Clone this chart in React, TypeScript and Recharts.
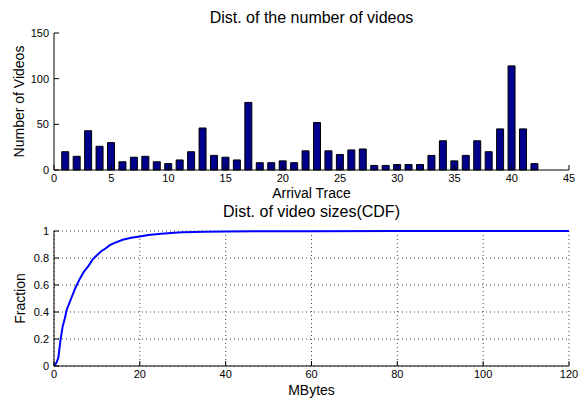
import React from "react";
import {
  BarChart,
  Bar,
  LineChart,
  Line,
  XAxis,
  YAxis,
  CartesianGrid,
} from "recharts";

// Videos per arrival trace
const traceIds = [
  1, 2, 3, 4, 5, 6, 7, 8, 9, 10, 11, 12, 13, 14, 15, 16, 17, 18, 19, 20, 21,
  22, 23, 24, 25, 26, 27, 28, 29, 30, 31, 32, 33, 34, 35, 36, 37, 38, 39, 40,
  41, 42,
];
const videoCounts = [
  20, 15, 43, 26, 30, 9, 14, 15, 9, 7, 11, 20, 46, 16, 14, 11, 74, 8, 8, 10, 8,
  21, 52, 21, 17, 22, 23, 5, 5, 6, 6, 6, 16, 32, 10, 16, 32, 20, 45, 114, 45, 7,
];
const traceTicks = [0, 5, 10, 15, 20, 25, 30, 35, 40, 45];
const countTicks = [0, 50, 100, 150];

// Video size CDF
const sizeMB = [
  0, 0.5, 1, 1.5, 2, 2.5, 3, 4, 5, 6, 7, 8, 9, 10, 11, 12, 13, 14, 16, 18, 20,
  22, 25, 28, 30, 35, 40, 50, 60, 80, 100, 120,
];
const sizeFraction = [
  0, 0.02, 0.06, 0.19, 0.29, 0.35, 0.42, 0.5, 0.58, 0.645, 0.7, 0.74, 0.79,
  0.82, 0.85, 0.87, 0.895, 0.91, 0.935, 0.95, 0.96, 0.97, 0.98, 0.987, 0.99,
  0.994, 0.996, 0.998, 0.999, 1, 1, 1,
];
const sizeTicks = [0, 20, 40, 60, 80, 100, 120];
const fractionTicks = [0, 0.2, 0.4, 0.6, 0.8, 1];

const barData = traceIds.map((id, i) => ({ trace: id, count: videoCounts[i] }));
const cdfData = sizeMB.map((mb, i) => ({ mb, fraction: sizeFraction[i] }));

const FONT = '"Liberation Sans", Arial, Helvetica, sans-serif';
const tickStyle = { fontSize: 11, fill: "#000", fontFamily: FONT };
const blank = () => "";

export default function App() {
  return (
    <div
      style={{
        position: "absolute",
        left: 0,
        top: 0,
        width: 580,
        height: 399,
        background: "#fff",
        fontFamily: FONT,
      }}
    >
      <div style={{ position: "absolute", left: 0, top: 0 }}>
        <BarChart
          width={580}
          height={200}
          data={barData}
          margin={{ top: 33, right: 11, bottom: 0, left: 0 }}
        >
          <XAxis
            dataKey="trace"
            type="number"
            domain={[0, 45]}
            ticks={traceTicks}
            allowDataOverflow
            height={30}
            stroke="#000"
            tickSize={-5}
            tickMargin={9}
            tick={tickStyle}
          />
          <XAxis
            xAxisId="top"
            orientation="top"
            type="number"
            domain={[0, 45]}
            ticks={traceTicks}
            height={0}
            stroke="#000"
            tickSize={-5}
            tickFormatter={blank}
          />
          <YAxis
            type="number"
            domain={[0, 150]}
            ticks={countTicks}
            width={54}
            stroke="#000"
            tickSize={-5}
            tickMargin={10}
            tick={tickStyle}
          />
          <YAxis
            yAxisId="right"
            orientation="right"
            type="number"
            domain={[0, 150]}
            ticks={countTicks}
            width={0}
            stroke="#000"
            tickSize={-5}
            tickFormatter={blank}
          />
          <Bar
            dataKey="count"
            fill="#00008C"
            stroke="#000"
            strokeWidth={1}
            barSize={7}
            isAnimationActive={false}
          />
        </BarChart>
      </div>

      <div style={{ position: "absolute", left: 0, top: 200 }}>
        <LineChart
          width={580}
          height={199}
          data={cdfData}
          margin={{ top: 31, right: 11, bottom: 0, left: 0 }}
        >
          <CartesianGrid stroke="#444" strokeDasharray="1 3" />
          <XAxis
            dataKey="mb"
            type="number"
            domain={[0, 120]}
            ticks={sizeTicks}
            height={33}
            stroke="#000"
            tickSize={-5}
            tickMargin={9}
            tick={tickStyle}
          />
          <XAxis
            xAxisId="top"
            orientation="top"
            type="number"
            domain={[0, 120]}
            ticks={sizeTicks}
            height={0}
            stroke="#000"
            tickSize={-5}
            tickFormatter={blank}
          />
          <YAxis
            type="number"
            domain={[0, 1]}
            ticks={fractionTicks}
            width={54}
            stroke="#000"
            tickSize={-5}
            tickMargin={10}
            tick={tickStyle}
          />
          <YAxis
            yAxisId="right"
            orientation="right"
            type="number"
            domain={[0, 1]}
            ticks={fractionTicks}
            width={0}
            stroke="#000"
            tickSize={-5}
            tickFormatter={blank}
          />
          <Line
            type="linear"
            dataKey="fraction"
            stroke="#0000FF"
            strokeWidth={2}
            dot={false}
            isAnimationActive={false}
          />
        </LineChart>
      </div>

      {/* titles and axis labels */}
      <svg
        width={580}
        height={399}
        style={{ position: "absolute", left: 0, top: 0, pointerEvents: "none" }}
        fontFamily={FONT}
        fill="#000"
      >
        <text x={311.5} y={23} fontSize={16} textAnchor="middle">
          Dist. of the number of videos
        </text>
        <text x={311.5} y={198} fontSize={14} textAnchor="middle">
          Arrival Trace
        </text>
        <text
          x={0}
          y={0}
          fontSize={14}
          textAnchor="middle"
          transform="translate(24 101.5) rotate(-90)"
        >
          Number of Videos
        </text>
        <text x={311.5} y={217} fontSize={16} textAnchor="middle">
          Dist. of video sizes(CDF)
        </text>
        <text x={311.5} y={395} fontSize={14} textAnchor="middle">
          MBytes
        </text>
        <text
          x={0}
          y={0}
          fontSize={14}
          textAnchor="middle"
          transform="translate(25 298.5) rotate(-90)"
        >
          Fraction
        </text>
      </svg>
    </div>
  );
}
